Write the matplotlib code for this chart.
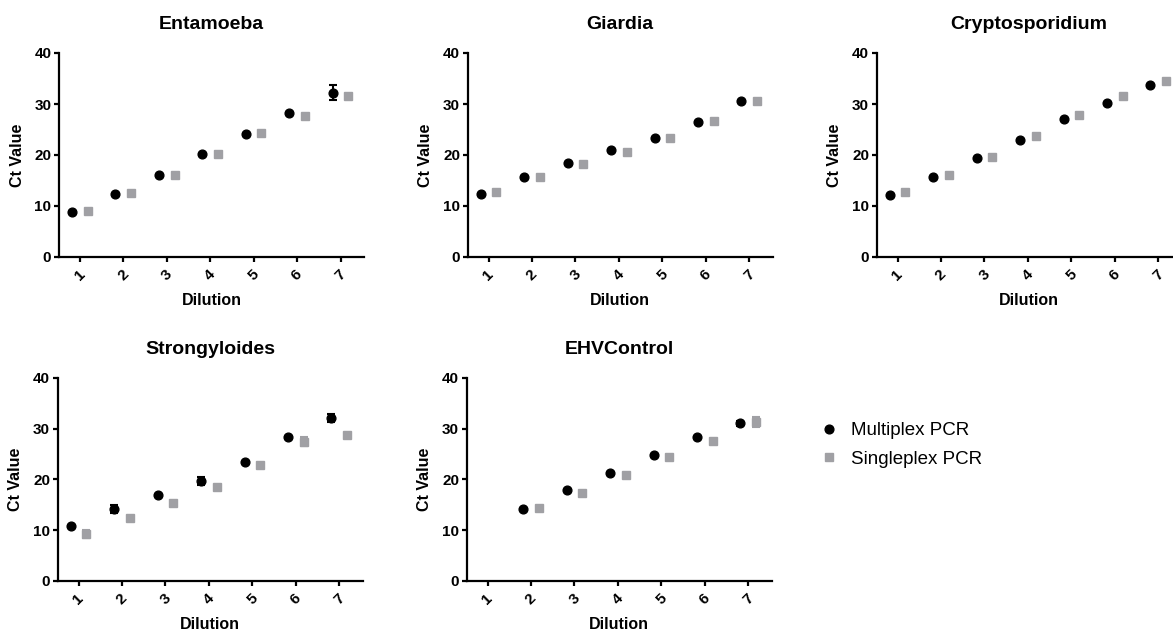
import matplotlib
matplotlib.use("Agg")
import matplotlib.pyplot as plt
from matplotlib.lines import Line2D
import numpy as np

plt.rcParams['font.family'] = ['Liberation Sans', 'DejaVu Sans']

dilutions = [1, 2, 3, 4, 5, 6, 7]
titles = ["Entamoeba", "Giardia", "Cryptosporidium", "Strongyloides", "EHVControl"]

# Multiplex PCR (mean, error)
multi_entamoeba = [8.8, 12.3, 16.1, 20.1, 24.2, 28.2, 32.2]
multi_entamoeba_err = [0, 0, 0, 0, 0, 0, 1.5]
multi_giardia = [12.4, 15.7, 18.4, 20.9, 23.4, 26.5, 30.65]
multi_giardia_err = [0, 0, 0, 0, 0, 0, 0]
multi_crypto = [12.1, 15.7, 19.5, 23.0, 27.0, 30.1, 33.7]
multi_crypto_err = [0, 0, 0, 0, 0, 0, 0]
multi_strongy = [10.8, 14.2, 17.0, 19.7, 23.5, 28.3, 32.1]
multi_strongy_err = [0, 0.75, 0, 0.75, 0, 0, 0.85]
multi_ehv = [np.nan, 14.2, 18.0, 21.3, 24.8, 28.4, 31.0]
multi_ehv_err = [0, 0, 0, 0, 0, 0, 0.5]

# Singleplex PCR (mean, error)
single_entamoeba = [8.95, 12.5, 16.1, 20.1, 24.25, 27.7, 31.6]
single_entamoeba_err = [0, 0, 0, 0, 0, 0, 0]
single_giardia = [12.8, 15.6, 18.2, 20.5, 23.3, 26.7, 30.5]
single_giardia_err = [0, 0, 0, 0, 0, 0, 0]
single_crypto = [12.7, 16.1, 19.7, 23.7, 27.9, 31.6, 34.5]
single_crypto_err = [0, 0, 0, 0, 0, 0, 0]
single_strongy = [9.3, 12.4, 15.35, 18.5, 22.9, 27.4, 28.7]
single_strongy_err = [0.8, 0, 0, 0, 0, 0.9, 0]
single_ehv = [np.nan, 14.3, 17.4, 20.8, 24.3, 27.5, 31.3]
single_ehv_err = [0, 0, 0, 0, 0, 0, 1.0]

multi_all = [(multi_entamoeba, multi_entamoeba_err), (multi_giardia, multi_giardia_err),
             (multi_crypto, multi_crypto_err), (multi_strongy, multi_strongy_err),
             (multi_ehv, multi_ehv_err)]
single_all = [(single_entamoeba, single_entamoeba_err), (single_giardia, single_giardia_err),
              (single_crypto, single_crypto_err), (single_strongy, single_strongy_err),
              (single_ehv, single_ehv_err)]

GRAY = '#a0a0a4'
W, H = 1173, 632
fig = plt.figure(figsize=(W / 100, H / 100), dpi=100)

# axes boxes in pixels: left, top, right, bottom
boxes = [(59, 53, 364, 257), (467.7, 53, 772.7, 257), (876.7, 53, 1181.7, 257),
         (57.7, 377.7, 362.7, 581), (466.7, 377.7, 771.7, 581)]

x = np.array(dilutions, dtype=float)
for i, (title, box) in enumerate(zip(titles, boxes)):
    l, t, r, b = box
    ax = fig.add_axes([l / W, 1 - b / H, (r - l) / W, (b - t) / H])
    m, me = multi_all[i]
    s, se = single_all[i]
    ax.errorbar(x - 0.18, m, yerr=me, fmt='o', color='black', ms=6.3,
                elinewidth=1.5, capsize=3.2, capthick=1.5, clip_on=False)
    ax.errorbar(x + 0.18, s, yerr=se, fmt='s', color=GRAY, ms=6.3,
                elinewidth=1.5, capsize=3.2, capthick=1.5, clip_on=False)
    ax.set_xlim(0.52, 7.54)
    ax.set_ylim(0, 40)
    ax.set_yticks([0, 10, 20, 30, 40])
    ax.set_xticks(dilutions)
    ax.set_xticklabels([str(d) for d in dilutions], rotation=45, ha='center',
                       fontsize=11, fontweight='bold')
    ax.set_yticklabels(['0', '10', '20', '30', '40'], fontsize=11, fontweight='bold')
    for sp in ['top', 'right']:
        ax.spines[sp].set_visible(False)
    for sp in ['left', 'bottom']:
        ax.spines[sp].set_linewidth(1.6)
    ax.tick_params(axis='both', width=1.6, length=3.5)
    ax.tick_params(axis='x', pad=4)
    ax.tick_params(axis='y', pad=2)
    ax.set_title(title, fontsize=14, fontweight='bold', pad=17)
    ax.set_ylabel('Ct Value', fontsize=11.5, fontweight='bold', labelpad=7)
    ax.set_xlabel('Dilution', fontsize=11.5, fontweight='bold', labelpad=7)

handles = [Line2D([], [], marker='o', ls='none', color='black', ms=6.3),
           Line2D([], [], marker='s', ls='none', color=GRAY, ms=6.3)]
fig.legend(handles, ['Multiplex PCR', 'Singleplex PCR'], loc='upper left',
           bbox_to_anchor=(820 / W, 1 - 422 / H), frameon=False, fontsize=13.5,
           handlelength=1.0, handletextpad=0.65, labelspacing=0.6,
           borderpad=0, borderaxespad=0)

fig.savefig('out.png', dpi=100)
